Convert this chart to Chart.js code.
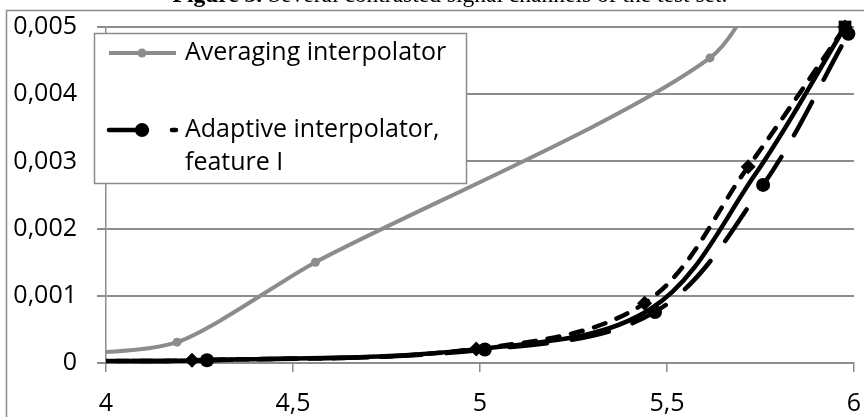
<!DOCTYPE html>
<html>
<head>
<meta charset="utf-8">
<title>Figure 3</title>
<script src="https://cdn.jsdelivr.net/npm/chart.js@4/dist/chart.umd.min.js"></script>
<style>
  html, body { margin: 0; padding: 0; background: #fff; }
  #wrap { position: relative; width: 864px; height: 417px; overflow: hidden; }
  #chart { position: absolute; left: 0; top: 0; }
  #title {
    position: absolute; left: 18px; width: 864px; top: -18px;
    text-align: center; white-space: nowrap;
    font: 23.5px/25px "Liberation Serif", "Times New Roman", serif; color: #000;
  }
</style>
</head>
<body>
<div id="wrap">
  <canvas id="chart" width="864" height="417"></canvas>
  <div id="title"><b>Figure 3.</b> Several contrasted signal channels of the test set.</div>
</div>
<script>
// axis ticks
const xTicks = [4, 4.5, 5, 5.5, 6]
const yTicks = [0, 0.001, 0.002, 0.003, 0.004, 0.005]

// Averaging interpolator (grey)
const avgX = [3.85, 4.19, 4.56, 5.615, 5.85]
const avgY = [0.00011, 0.00031, 0.0015, 0.00454, 0.0068]

// Adaptive interpolator, feature I (long dash, circles)
const adaptX = [3.9, 4.27, 5.013, 5.468, 5.757, 5.985]
const adaptY = [0.00003, 0.00004, 0.0002, 0.00076, 0.00265, 0.0049]

// other adaptive channels (short dash with diamonds, solid)
const diamX = [3.9, 4.23, 4.99, 5.44, 5.717, 5.976]
const diamY = [0.00003, 0.00004, 0.00021, 0.00089, 0.00292, 0.005]
const solidX = [3.9, 4.25, 5.0, 5.455, 5.735, 5.976]
const solidY = [0.00003, 0.00004, 0.00021, 0.0008, 0.0028, 0.005]

const gray = "#8c8c8c"
const font = "'Open Sans', 'Noto Sans', sans-serif"

const toPoints = (xs, ys) => xs.map((x, i) => ({ x: x, y: ys[i] }))
const comma = (s) => String(s).replace(".", ",")

// frame around the plot and the boxed legend
const panelPlugin = {
  id: "panel",
  beforeDraw(chart) {
    const ctx = chart.ctx
    ctx.save()
    ctx.strokeStyle = gray
    ctx.lineWidth = 1.5
    ctx.strokeRect(6.5, 10.5, 900, 500)
    ctx.restore()
  },
  afterDatasetsDraw(chart) {
    const ctx = chart.ctx
    const ds = chart.data.datasets
    ctx.save()
    ctx.fillStyle = "#fff"
    ctx.fillRect(94, 33, 372, 150)
    ctx.strokeStyle = gray
    ctx.lineWidth = 1.5
    ctx.strokeRect(94.5, 33.5, 372, 150)

    const rows = [
      { d: ds[0], y: 53, lines: ["Averaging interpolator"] },
      { d: ds[1], y: 130, lines: ["Adaptive interpolator,", "feature I"] },
    ]
    rows.forEach((r) => {
      ctx.strokeStyle = r.d.borderColor
      ctx.lineWidth = r.d.borderWidth
      ctx.lineCap = r.d.borderCapStyle || "butt"
      ctx.setLineDash(r.d.borderDash || [])
      ctx.beginPath()
      ctx.moveTo(109, r.y)
      ctx.lineTo(176, r.y)
      ctx.stroke()
      ctx.setLineDash([])
      ctx.fillStyle = r.d.pointBackgroundColor
      ctx.beginPath()
      ctx.arc(142, r.y, r.d.pointRadius, 0, Math.PI * 2)
      ctx.fill()
      ctx.fillStyle = "#000"
      ctx.font = "25px " + font
      ctx.textBaseline = "middle"
      r.lines.forEach((t, i) => ctx.fillText(t, 185, r.y + i * 33))
    })
    ctx.restore()
  },
}

const chart = new Chart(document.getElementById("chart"), {
  type: "scatter",
  data: {
    datasets: [
      {
        label: "Averaging interpolator",
        data: toPoints(avgX, avgY),
        showLine: true,
        borderColor: gray,
        backgroundColor: gray,
        pointBackgroundColor: gray,
        pointBorderWidth: 0,
        borderWidth: 4,
        pointRadius: 4.5,
        tension: 0.25,
        clip: 0,
      },
      {
        label: "Adaptive interpolator, feature I",
        data: toPoints(adaptX, adaptY),
        showLine: true,
        borderColor: "#000",
        backgroundColor: "#000",
        pointBackgroundColor: "#000",
        pointBorderWidth: 0,
        borderWidth: 4.5,
        borderDash: [38, 25],
        borderCapStyle: "round",
        pointRadius: 7,
        tension: 0.35,
        clip: { left: 0, top: 12, right: 12, bottom: 12 },
      },
      {
        data: toPoints(diamX, diamY),
        showLine: true,
        borderColor: "#000",
        backgroundColor: "#000",
        pointBackgroundColor: "#000",
        pointBorderWidth: 0,
        pointStyle: "rectRot",
        borderWidth: 4.5,
        borderDash: [12, 12],
        borderCapStyle: "round",
        pointRadius: 7.5,
        tension: 0.35,
        clip: { left: 0, top: 12, right: 12, bottom: 12 },
      },
      {
        data: toPoints(solidX, solidY),
        showLine: true,
        borderColor: "#000",
        backgroundColor: "#000",
        pointBackgroundColor: "#000",
        pointBorderWidth: 0,
        pointStyle: "rect",
        borderWidth: 4.5,
        pointRadius: solidX.map((x, i) => (i === solidX.length - 1 ? 9 : 0)),
        tension: 0.35,
        clip: { left: 0, top: 12, right: 12, bottom: 12 },
      },
    ],
  },
  options: {
    responsive: false,
    animation: false,
    events: [],
    layout: { padding: { left: 0, right: 10, top: 27, bottom: 0 } },
    plugins: {
      legend: { display: false },
      tooltip: { enabled: false },
    },
    scales: {
      x: {
        type: "linear",
        min: xTicks[0],
        max: xTicks[xTicks.length - 1],
        afterBuildTicks: (s) => { s.ticks = xTicks.map((v) => ({ value: v })) },
        afterFit: (s) => {
          s.height = 54
          s.paddingLeft = 0
          s.paddingRight = 0
        },
        ticks: {
          color: "#000",
          font: { family: font, size: 25 },
          padding: 17,
          maxRotation: 0,
          callback: (v) => comma(v),
        },
        grid: { drawOnChartArea: false, tickLength: 9, color: gray, lineWidth: 1.5 },
        border: { color: gray, width: 1.5 },
      },
      y: {
        min: yTicks[0],
        max: yTicks[yTicks.length - 1],
        afterBuildTicks: (s) => { s.ticks = yTicks.map((v) => ({ value: v })) },
        afterFit: (s) => {
          s.width = 106
          s.paddingTop = 0
          s.paddingBottom = 0
        },
        ticks: {
          color: "#000",
          font: { family: font, size: 25 },
          padding: 20,
          callback: (v) => (v === 0 ? "0" : comma(v.toFixed(3))),
        },
        grid: { tickLength: 9, color: gray, lineWidth: 2 },
        border: { color: gray, width: 1.5 },
      },
    },
  },
  plugins: [panelPlugin],
})
</script>
</body>
</html>
